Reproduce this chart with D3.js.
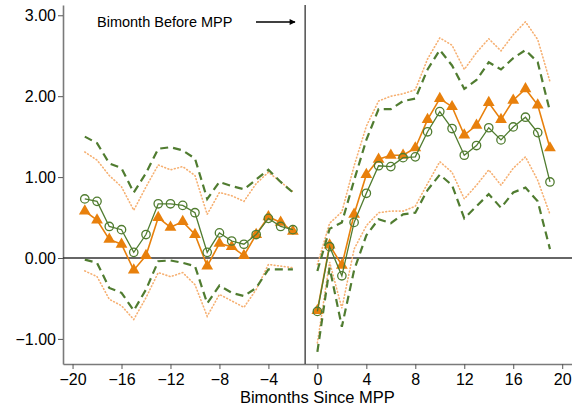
<!DOCTYPE html>
<html>
<head>
<meta charset="utf-8">
<script src="https://cdn.jsdelivr.net/npm/d3@7"></script>
<style>
  html, body { margin: 0; padding: 0; background: #fff; }
  svg { display: block; font-family: "Liberation Sans", Arial, sans-serif; }
</style>
</head>
<body>
<svg id="chart" width="572" height="410"></svg>
<script>
// Bimonths relative to MPP: pre-period and post-period
const preX  = [-19, -18, -17, -16, -15, -14, -13, -12, -11, -10, -9, -8, -7, -6, -5, -4, -3, -2];
const postX = [0, 1, 2, 3, 4, 5, 6, 7, 8, 9, 10, 11, 12, 13, 14, 15, 16, 17, 18, 19];

// Estimate A (green, hollow circles) with dashed confidence band
const preA      = [0.73, 0.70, 0.39, 0.35, 0.07, 0.29, 0.67, 0.67, 0.65, 0.56, 0.07, 0.31, 0.21, 0.17, 0.29, 0.49, 0.39, 0.35];
const preA_hi   = [1.50, 1.42, 1.17, 1.11, 0.81, 1.05, 1.35, 1.37, 1.33, 1.23, 0.73, 0.94, 0.89, 0.85, 0.97, 1.09, 0.94, 0.81];
const preA_lo   = [-0.02, -0.06, -0.37, -0.43, -0.65, -0.39, -0.04, -0.03, -0.06, -0.10, -0.56, -0.34, -0.43, -0.47, -0.37, -0.14, -0.14, -0.14];
const postA     = [-0.66, 0.14, -0.22, 0.44, 0.80, 1.14, 1.13, 1.24, 1.25, 1.56, 1.81, 1.60, 1.27, 1.39, 1.61, 1.46, 1.62, 1.74, 1.55, 0.94];
const postA_hi  = [-0.16, 0.36, 0.44, 0.96, 1.46, 1.84, 1.84, 1.94, 1.97, 2.33, 2.57, 2.38, 2.09, 2.20, 2.42, 2.33, 2.47, 2.57, 2.42, 1.81];
const postA_lo  = [-1.16, -0.12, -0.85, -0.15, 0.28, 0.48, 0.43, 0.54, 0.56, 0.84, 1.03, 0.90, 0.49, 0.64, 0.79, 0.62, 0.81, 0.87, 0.70, 0.11];

// Estimate B (orange, filled triangles) with dotted confidence band
const preB      = [0.58, 0.47, 0.23, 0.17, -0.15, 0.03, 0.50, 0.38, 0.45, 0.29, -0.10, 0.18, 0.14, 0.03, 0.29, 0.51, 0.44, 0.33];
const preB_hi   = [1.31, 1.21, 1.02, 0.88, 0.59, 0.88, 1.15, 1.09, 1.13, 1.02, 0.54, 0.81, 0.77, 0.70, 0.92, 1.06, 0.94, 0.82];
const preB_lo   = [-0.16, -0.23, -0.51, -0.59, -0.76, -0.49, -0.18, -0.23, -0.18, -0.33, -0.72, -0.45, -0.53, -0.61, -0.39, -0.08, -0.10, -0.12];
const postB     = [-0.65, 0.16, -0.09, 0.54, 1.03, 1.22, 1.27, 1.27, 1.36, 1.71, 1.97, 1.87, 1.52, 1.64, 1.92, 1.71, 1.95, 2.09, 1.89, 1.36];
const postB_hi  = [-0.08, 0.43, 0.57, 1.14, 1.63, 1.94, 2.00, 2.03, 2.08, 2.46, 2.72, 2.63, 2.33, 2.54, 2.71, 2.56, 2.76, 2.92, 2.70, 2.18];
const postB_lo  = [-1.05, -0.05, -0.62, 0.11, 0.40, 0.56, 0.58, 0.58, 0.64, 0.92, 1.19, 1.06, 0.73, 0.90, 1.09, 0.90, 1.11, 1.25, 0.96, 0.54];

const xTicks = [-20, -16, -12, -8, -4, 0, 4, 8, 12, 16, 20];
const yTicks = [-1, 0, 1, 2, 3];
const mppLine = -1;

const GREEN = "#507c30";
const ORANGE = "#e8800c";
const PEACH = "#f6b072";

const svg = d3.select("#chart");

const x = d3.scaleLinear().domain([-20.78, 20.8]).range([63, 572]);
const y = d3.scaleLinear().domain([-1.31, 3.127]).range([364, 5]);

// Axes
const yAxis = svg.append("g")
  .attr("transform", `translate(${x.range()[0]},0)`)
  .call(d3.axisLeft(y).tickValues(yTicks).tickFormat(d3.format(".2f")).tickSize(5).tickSizeOuter(0).tickPadding(2));
const xAxis = svg.append("g")
  .attr("transform", `translate(0,${y.range()[0]})`)
  .call(d3.axisBottom(x).tickValues(xTicks).tickFormat(d3.format("d")).tickSize(5).tickSizeOuter(0).tickPadding(5));

[yAxis, xAxis].forEach(g => {
  g.select(".domain").attr("stroke", "#7a7a7a").attr("stroke-width", 1.6);
  g.selectAll(".tick line").attr("stroke", "#555").attr("stroke-width", 1);
  g.selectAll(".tick text").attr("fill", "#000").style("font-size", "16px");
});

// Reference lines: zero and the bimonth before MPP
svg.append("line")
  .attr("x1", x.range()[0]).attr("x2", x.range()[1])
  .attr("y1", y(0)).attr("y2", y(0))
  .attr("stroke", "#333").attr("stroke-width", 1.3);
svg.append("line")
  .attr("x1", x(mppLine)).attr("x2", x(mppLine))
  .attr("y1", y.range()[1]).attr("y2", y.range()[0])
  .attr("stroke", "#333").attr("stroke-width", 1.3);

const line = d3.line().x(d => x(d[0])).y(d => y(d[1]));
const zip = (xs, ys) => xs.map((v, i) => [v, ys[i]]);

function band(xs, ys, color, dash, width, cap) {
  svg.append("path")
    .attr("d", line(zip(xs, ys)))
    .attr("fill", "none")
    .attr("stroke", color)
    .attr("stroke-width", width)
    .attr("stroke-dasharray", dash)
    .attr("stroke-linecap", cap);
}

// Confidence bands
[[preX, preB_hi], [preX, preB_lo], [postX, postB_hi], [postX, postB_lo]]
  .forEach(([xs, ys]) => band(xs, ys, PEACH, "0.8,2.6", 1.6, "round"));
[[preX, preA_hi], [preX, preA_lo], [postX, postA_hi], [postX, postA_lo]]
  .forEach(([xs, ys]) => band(xs, ys, GREEN, "8,5", 2.2, "butt"));

// Estimate A: line with hollow circles
function seriesA(xs, ys) {
  const pts = zip(xs, ys);
  svg.append("path").attr("d", line(pts))
    .attr("fill", "none").attr("stroke", GREEN).attr("stroke-width", 1.3);
  svg.append("g").selectAll("circle").data(pts).join("circle")
    .attr("cx", d => x(d[0])).attr("cy", d => y(d[1])).attr("r", 4.2)
    .attr("fill", "none").attr("stroke", GREEN).attr("stroke-width", 1.3);
}
// Estimate B: line with filled triangles
const tri = d3.symbol().type(d3.symbolTriangle).size(60);
function seriesB(xs, ys) {
  const pts = zip(xs, ys);
  svg.append("path").attr("d", line(pts))
    .attr("fill", "none").attr("stroke", ORANGE).attr("stroke-width", 1.6);
  svg.append("g").selectAll("path").data(pts).join("path")
    .attr("d", tri)
    .attr("transform", d => `translate(${x(d[0])},${y(d[1])})`)
    .attr("fill", ORANGE);
}

seriesB(preX, preB);
seriesB(postX, postB);
seriesA(preX, preA);
seriesA(postX, postA);

// Annotation with arrow pointing to the MPP reference line
svg.append("defs").append("marker")
  .attr("id", "arrowhead").attr("viewBox", "0 0 10 10")
  .attr("refX", 9).attr("refY", 5)
  .attr("markerWidth", 8).attr("markerHeight", 6).attr("markerUnits", "userSpaceOnUse")
  .attr("orient", "auto")
  .append("path").attr("d", "M0,0 L10,5 L0,10 Z").attr("fill", "#000");

svg.append("text")
  .attr("x", 97).attr("y", 27)
  .style("font-size", "14.5px").attr("fill", "#000")
  .text("Bimonth Before MPP");
svg.append("line")
  .attr("x1", 256).attr("x2", 295)
  .attr("y1", 22).attr("y2", 22)
  .attr("stroke", "#000").attr("stroke-width", 1.4)
  .attr("marker-end", "url(#arrowhead)");

// Axis title
svg.append("text")
  .attr("x", x(0)).attr("y", 403)
  .attr("text-anchor", "middle")
  .style("font-size", "16.5px").attr("fill", "#000")
  .text("Bimonths Since MPP");
</script>
</body>
</html>
